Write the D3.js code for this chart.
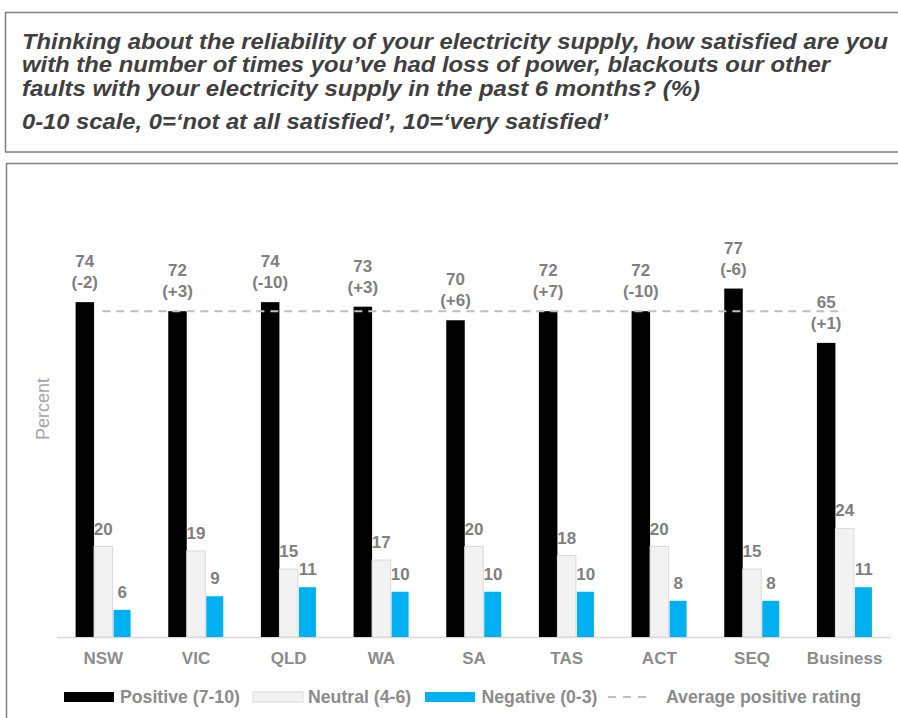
<!DOCTYPE html>
<html>
<head>
<meta charset="utf-8">
<script src="https://cdn.jsdelivr.net/npm/d3@7"></script>
<style>
  html, body { margin: 0; padding: 0; background: #fff; }
  svg { display: block; }
</style>
</head>
<body>
<svg id="chart" width="898" height="718"></svg>
<script>
// ---- data ----
const categories = ["NSW", "VIC", "QLD", "WA", "SA", "TAS", "ACT", "SEQ", "Business"];
const positive = [74, 72, 74, 73, 70, 72, 72, 77, 65];
const positiveChange = ["(-2)", "(+3)", "(-10)", "(+3)", "(+6)", "(+7)", "(-10)", "(-6)", "(+1)"];
const neutral = [20, 19, 15, 17, 20, 18, 20, 15, 24];
const negative = [6, 9, 11, 10, 10, 10, 8, 8, 11];
const averagePositive = 72;
const seriesNames = ["Positive (7-10)", "Neutral (4-6)", "Negative (0-3)"];
const averageName = "Average positive rating";
const titleLines = [
  "Thinking about the reliability of your electricity supply, how satisfied are you",
  "with the number of times you\u2019ve had loss of power, blackouts our other",
  "faults with your electricity supply in the past 6 months? (%)"
];
const subtitle = "0-10 scale, 0=\u2018not at all satisfied\u2019, 10=\u2018very satisfied\u2019";
const yLabel = "Percent";

// ---- layout ----
const svg = d3.select("#chart");
const font = "'Liberation Sans', Arial, sans-serif";
const labelGray = "#7f7f7f";
const colors = { pos: "#000000", neu: "#f2f2f2", neg: "#00b0f0" };

// boxes
svg.append("rect").attr("x", 5.5).attr("y", 12.5).attr("width", 920).attr("height", 139.5)
  .attr("fill", "none").attr("stroke", "#7f7f7f").attr("stroke-width", 1.5);
svg.append("rect").attr("x", 6.5).attr("y", 163.5).attr("width", 920).attr("height", 600)
  .attr("fill", "none").attr("stroke", "#7f7f7f").attr("stroke-width", 1.5);

// title
const titleWidths = [866, 808, 678];
const titleBase = [48.5, 72, 95.5];
titleLines.forEach((t, i) => {
  svg.append("text").attr("x", 22).attr("y", titleBase[i])
    .attr("font-family", font).attr("font-size", 22).attr("font-weight", "bold")
    .attr("font-style", "italic").attr("fill", "#404040")
    .attr("textLength", titleWidths[i]).attr("lengthAdjust", "spacingAndGlyphs")
    .text(t);
});
svg.append("text").attr("x", 22).attr("y", 129)
  .attr("font-family", font).attr("font-size", 22).attr("font-weight", "bold")
  .attr("font-style", "italic").attr("fill", "#404040")
  .attr("textLength", 586).attr("lengthAdjust", "spacingAndGlyphs")
  .text(subtitle);

// scales
const x0 = d3.scaleBand().domain(categories).range([57, 891]).padding(0);
const groupW = 55.5;
const x1 = d3.scaleBand().domain(["pos", "neu", "neg"]).range([0, groupW]).padding(0);
const y = d3.scaleLinear().domain([0, 100]).range([637, 184.5]);
const gx = c => x0(c) + (x0.bandwidth() - groupW) / 2;

// axis baseline
svg.append("line").attr("x1", x0.range()[0]).attr("x2", x0.range()[1])
  .attr("y1", y(0) + 0.5).attr("y2", y(0) + 0.5)
  .attr("stroke", "#d9d9d9").attr("stroke-width", 1.5);

const rows = categories.map((c, i) => ({ c, pos: positive[i], neu: neutral[i], neg: negative[i], ch: positiveChange[i] }));

const g = svg.append("g");
["pos", "neu", "neg"].forEach(k => {
  g.selectAll(".bar-" + k).data(rows).enter().append("rect")
    .attr("x", d => gx(d.c) + x1(k) + (k === "neg" ? 1 : 0))
    .attr("width", x1.bandwidth() - (k === "neg" ? 1.5 : 0))
    .attr("y", d => y(d[k]))
    .attr("height", d => y(0) - y(d[k]))
    .attr("fill", colors[k])
    .attr("stroke", k === "neu" ? "#d9d9d9" : "none")
    .attr("stroke-width", k === "neu" ? 1 : 0);
});

// average line
svg.append("line")
  .attr("x1", x0(categories[0]) + x0.bandwidth() / 2 - 1)
  .attr("x2", x0(categories[categories.length - 1]) + x0.bandwidth() / 2)
  .attr("y1", y(averagePositive)).attr("y2", y(averagePositive))
  .attr("stroke", "#bfbfbf").attr("stroke-width", 2).attr("stroke-dasharray", "8,6");

// value labels
const lab = svg.append("g").attr("font-family", font).attr("font-size", 17)
  .attr("font-weight", "bold").attr("fill", labelGray).attr("text-anchor", "middle");
rows.forEach(d => {
  const cx = gx(d.c) + x1("pos") + x1.bandwidth() / 2;
  lab.append("text").attr("x", cx).attr("y", y(d.pos) - 35).text(d.pos);
  lab.append("text").attr("x", cx).attr("y", y(d.pos) - 14).text(d.ch);
  const nx = gx(d.c) + x1("neu") + x1.bandwidth() / 2;
  lab.append("text").attr("x", nx).attr("y", y(d.neu) - 12).text(d.neu);
  const ex = gx(d.c) + x1("neg") + x1.bandwidth() / 2 + 0.5;
  lab.append("text").attr("x", ex).attr("y", y(d.neg) - 12).text(d.neg);
});

// x axis labels
const xAxis = d3.axisBottom(x0).tickSize(0).tickPadding(0);
const xa = svg.append("g").attr("transform", `translate(0,${y(0)})`).call(xAxis);
xa.select(".domain").remove();
xa.selectAll("text").attr("font-family", font).attr("font-size", 17)
  .attr("font-weight", "bold").attr("fill", "#8c8c8c").attr("dy", 0).attr("y", 27);

// y label
svg.append("text").attr("transform", "translate(49,409) rotate(-90)")
  .attr("text-anchor", "middle").attr("font-family", font).attr("font-size", 18)
  .attr("fill", "#a6a6a6").text(yLabel);

// legend
const ly = 697;
const legend = svg.append("g").attr("font-family", font).attr("font-size", 17.7)
  .attr("font-weight", "bold").attr("fill", "#8c8c8c");
const legItems = [
  { k: "pos", x: 64, tx: 120 },
  { k: "neu", x: 253, tx: 308 },
  { k: "neg", x: 425, tx: 481.5 }
];
legItems.forEach((it, i) => {
  legend.append("rect").attr("x", it.x).attr("y", ly - 5).attr("width", 50).attr("height", 10)
    .attr("fill", colors[it.k])
    .attr("stroke", it.k === "neu" ? "#d9d9d9" : "none");
  legend.append("text").attr("x", it.tx).attr("y", ly + 6).text(seriesNames[i]);
});
legend.append("line").attr("x1", 608).attr("x2", 652).attr("y1", ly).attr("y2", ly)
  .attr("stroke", "#bfbfbf").attr("stroke-width", 2).attr("stroke-dasharray", "8,7");
legend.append("text").attr("x", 666).attr("y", ly + 6).text(averageName);
</script>
</body>
</html>
